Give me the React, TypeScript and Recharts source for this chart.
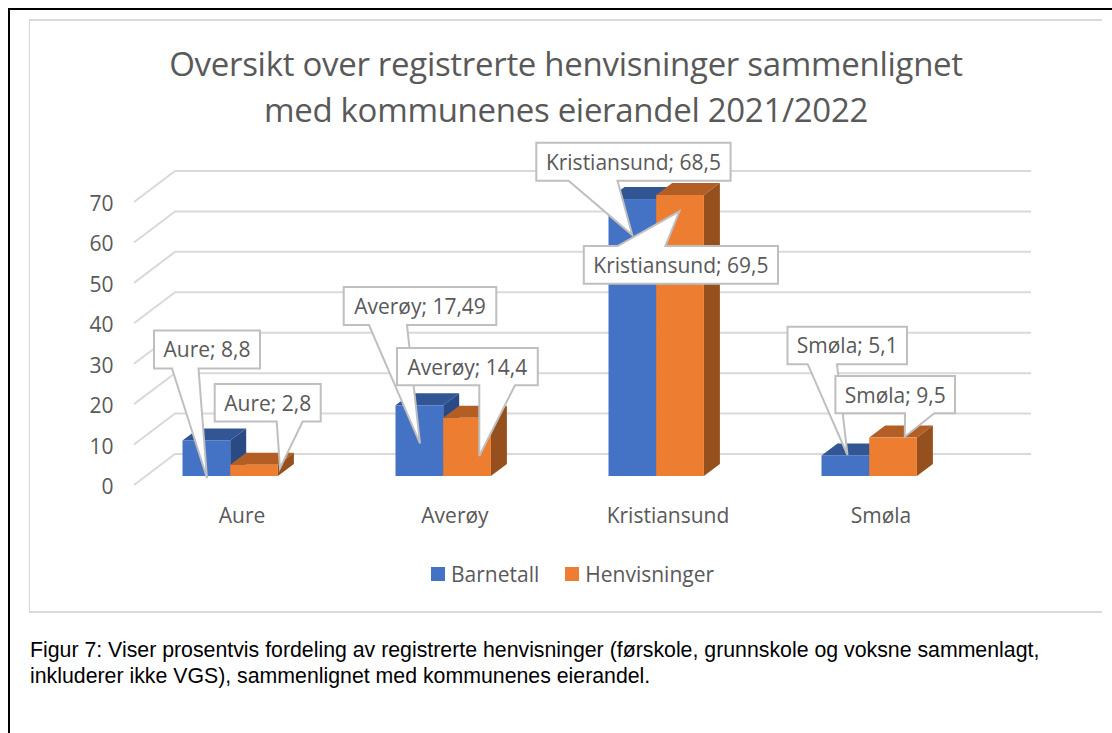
import React from "react";
import { BarChart, Bar, XAxis, YAxis, CartesianGrid, LabelList, Legend } from "recharts";

const categories = ["Aure", "Averøy", "Kristiansund", "Smøla"];
const barnetall = [8.8, 17.49, 68.5, 5.1];
const henvisninger = [2.8, 14.4, 69.5, 9.5];
const barnetallLabels = ["8,8", "17,49", "68,5", "5,1"];
const henvisningerLabels = ["2,8", "14,4", "69,5", "9,5"];
const yTicks = [0, 10, 20, 30, 40, 50, 60, 70];
const titleLines = ["Oversikt over registrerte henvisninger sammenlignet", "med kommunenes eierandel 2021/2022"];
const captionLines = [
  "Figur 7: Viser prosentvis fordeling av registrerte henvisninger (førskole, grunnskole og voksne sammenlagt,",
  "inkluderer ikke VGS), sammenlignet med kommunenes eierandel.",
];

const data = categories.map((c, i) => ({ c, b: barnetall[i], h: henvisninger[i] }));

const FONT = "'Open Sans', sans-serif";
const TEXT = "#595959";
const GRID = "#d9d9d9";
const DX = 16;
const DY = 12;

// Callout layout relative to the bar's top-left corner: box dx, dy, w, h, pointer base a-b, tip tx, ty
type C = { dx: number; dy: number; w: number; h: number; a: number; b: number; tx: number; ty: number; top?: boolean };
const blueCallouts: C[] = [
  { dx: -28.5, dy: -110, w: 106, h: 38, a: -10.5, b: 16, tx: 24.5, ty: 37.6 },
  { dx: -51.8, dy: -118.3, w: 152.6, h: 38, a: -26.5, b: 11.5, tx: 24.5, ty: 38 },
  { dx: -72.2, dy: -56.3, w: 194.3, h: 38, a: -39.9, b: 9, tx: 23.8, ty: 36 },
  { dx: -34, dy: -128.7, w: 119.5, h: 37.5, a: -13.8, b: 15.5, tx: 26, ty: -0.4 },
];
const orangeCallouts: C[] = [
  { dx: -15.5, dy: -80.7, w: 106, h: 37.5, a: 46.5, b: 72.5, tx: 49.8, ty: 3.6 },
  { dx: -46.2, dy: -69.8, w: 140.8, h: 37.2, a: 36.1, b: 71.8, tx: 36.1, ty: 38.2 },
  { dx: -72.4, dy: 51, w: 194.2, h: 37.7, a: -38.7, b: 9.2, tx: 23.2, ty: 16.3, top: true },
  { dx: -33.8, dy: -61.6, w: 119.6, h: 37.3, a: 35.8, b: 65.2, tx: 35.6, ty: -0.9 },
];

const Bar3D = (colors: { front: string; top: string; side: string }) => (p: any) => {
  const { x, y, width: w, height: h } = p;
  return (
    <g>
      <path d={`M${x},${y} l${DX},${-DY} h${w} l${-DX},${DY} z`} fill={colors.top} />
      <path d={`M${x + w},${y} l${DX},${-DY} v${h} l${-DX},${DY} z`} fill={colors.side} />
      <rect x={x} y={y} width={w} height={h} fill={colors.front} />
    </g>
  );
};

const Callout = (layout: C[], texts: string[]) => (p: any) => {
  const { x, y, index } = p;
  const c = layout[index];
  const l = x + c.dx;
  const t = y + c.dy;
  const r = l + c.w;
  const b = t + c.h;
  const tipX = x + c.tx;
  const tipY = y + c.ty;
  const d = c.top
    ? `M${l},${t} L${x + c.a},${t} L${tipX},${tipY} L${x + c.b},${t} L${r},${t} L${r},${b} L${l},${b} Z`
    : `M${l},${t} L${r},${t} L${r},${b} L${x + c.b},${b} L${tipX},${tipY} L${x + c.a},${b} L${l},${b} Z`;
  return (
    <g>
      <path d={d} fill="#fff" stroke="#bfbfbf" strokeWidth={2} />
      <text x={l + c.w / 2} y={t + c.h / 2} textAnchor="middle" dominantBaseline="central" fontFamily={FONT} fontSize={21} fill={TEXT}>
        {`${categories[index]}; ${texts[index]}`}
      </text>
    </g>
  );
};

const gridLine = (p: any) => {
  const { y1, x1, x2, key } = p;
  return (
    <polyline
      key={key}
      points={`${x1 + 10.5},${y1 + 9} ${x1 + 51.5},${y1 - 22} ${x2 + 55.5},${y1 - 22}`}
      fill="none"
      stroke={GRID}
      strokeWidth={2}
    />
  );
};

const YTick = (p: any) => (
  <text x={p.x - 2} y={p.y + 10} textAnchor="end" dominantBaseline="central" fontFamily={FONT} fontSize={21} fill={TEXT}>
    {p.payload.value}
  </text>
);

const XTick = (p: any) => (
  <text x={p.x + 12} y={p.y + 31} textAnchor="middle" dominantBaseline="central" fontFamily={FONT} fontSize={21} fill={TEXT}>
    {p.payload.value}
  </text>
);

const legendItems = [
  { name: "Barnetall", color: "#4472C4" },
  { name: "Henvisninger", color: "#ED7D31" },
];

const LegendContent = () => (
  <div style={{ position: "absolute", left: 431, top: 559, display: "flex", alignItems: "center", height: 30, whiteSpace: "nowrap", fontFamily: FONT, fontSize: 21, color: TEXT }}>
    {legendItems.map((it, i) => (
      <span key={it.name} style={{ display: "flex", alignItems: "center", marginRight: i === 0 ? 26 : 0 }}>
        <span style={{ width: 14, height: 14, background: it.color, marginRight: 6, display: "inline-block" }} />
        {it.name}
      </span>
    ))}
  </div>
);

export default function App() {
  return (
    <div style={{ position: "absolute", left: 0, top: 0, width: 1112, height: 733, overflow: "hidden", background: "#fff" }}>
      <div style={{ position: "absolute", left: 8, top: 8, width: 1200, height: 800, border: "2px solid #000", boxSizing: "border-box" }} />
      <div style={{ position: "absolute", left: 29, top: 19, width: 1073, height: 594, borderLeft: "1.5px solid #d9d9d9", borderTop: "2px solid #d9d9d9", borderBottom: "2px solid #d9d9d9", boxSizing: "border-box" }} />
      <div style={{ position: "absolute", left: 0, top: 41, width: 1132, textAlign: "center", fontFamily: FONT, fontSize: 33, lineHeight: "46px", letterSpacing: -0.3, color: TEXT }}>
        {titleLines.map((t) => (
          <div key={t}>{t}</div>
        ))}
      </div>
      <div style={{ position: "absolute", left: 30, top: 637, width: 1080, fontFamily: "'Liberation Sans', Arial, sans-serif", fontSize: 21.3, lineHeight: "26px", color: "#000", whiteSpace: "nowrap" }}>
        {captionLines.map((t) => (
          <div key={t}>{t}</div>
        ))}
      </div>
      <div style={{ position: "absolute", left: 0, top: 0 }}>
        <BarChart width={1112} height={733} data={data} margin={{ top: 193, right: 136.5, bottom: 227, left: 63.5 }} barGap={0} barCategoryGap={0}>
          <CartesianGrid vertical={false} horizontal={gridLine} />
          <XAxis dataKey="c" axisLine={false} tickLine={false} height={30} tick={XTick} interval={0} />
          <YAxis domain={[0, 70]} ticks={yTicks} axisLine={false} tickLine={false} width={60} tick={YTick} interval={0} />
          <XAxis xAxisId="over" dataKey="c" hide />
          <YAxis yAxisId="over" domain={[0, 70]} hide />
          <Legend wrapperStyle={{ position: "absolute", left: 0, top: 0, width: 0, height: 0 }} content={<LegendContent />} />
          <Bar dataKey="b" name="Barnetall" barSize={47.7} isAnimationActive={false} shape={Bar3D({ front: "#4472C4", top: "#325694", side: "#2A4A85" })} />
          <Bar dataKey="h" name="Henvisninger" barSize={47.7} isAnimationActive={false} shape={Bar3D({ front: "#ED7D31", top: "#B35E24", side: "#95501E" })} />
          <Bar xAxisId="over" yAxisId="over" dataKey="b" barSize={47.7} isAnimationActive={false} legendType="none" shape={() => <g />}>
            <LabelList dataKey="b" content={Callout(blueCallouts, barnetallLabels)} />
          </Bar>
          <Bar xAxisId="over" yAxisId="over" dataKey="h" barSize={47.7} isAnimationActive={false} legendType="none" shape={() => <g />}>
            <LabelList dataKey="h" content={Callout(orangeCallouts, henvisningerLabels)} />
          </Bar>
        </BarChart>
      </div>
    </div>
  );
}
